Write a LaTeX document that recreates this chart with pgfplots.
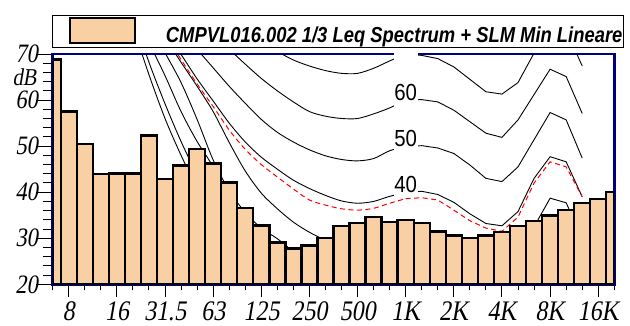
\documentclass[border=0pt]{standalone}
\usepackage{fontspec}
\setmainfont{Liberation Serif}
\newfontfamily\serifit{Liberation Serif}[FakeSlant=0.2]
\newfontfamily\arialfont{Liberation Sans}
\usepackage{graphicx}
\usepackage{pgfplots}
\pgfplotsset{compat=1.18}
\definecolor{barfill}{RGB}{249,208,163}
\definecolor{navyblue}{RGB}{0,0,128}
\newcommand{\vs}[1]{\scalebox{1}[1.18]{#1}}
\newcommand{\vl}[1]{\scalebox{1}[1.14]{#1}}
\newcommand{\legfont}{\arialfont\bfseries\itshape\fontsize{18.4}{20}\selectfont}
\newcommand{\labfont}{\arialfont\fontsize{20.4}{20.4}\selectfont}
\begin{document}
\begin{tikzpicture}
\useasboundingbox (0,0) rectangle (630pt,325pt);
\begin{axis}[
  at={(52.7pt,40.7pt)}, anchor=south west,
  scale only axis, width=561.6pt, height=230.3pt,
  xmin=0, xmax=35, ymin=20, ymax=70,
  clip mode=individual,
  axis line style={draw=navyblue, line width=2.8pt},
  tick align=outside, xtick pos=bottom, ytick pos=left,
  major tick length=13pt, minor tick length=6pt,
  xtick={1,4,...,34}, minor xtick={0,...,35},
  ytick={20,30,...,70}, minor ytick={22,24,...,68},
  tick style={black, line width=1pt},
  ytick style={/pgfplots/major tick length=16.7pt, /pgfplots/minor tick length=10pt},
  xticklabels={\vs{8},\vs{16},\vs{31.5},\vs{63},\vs{125},\vs{250},\vs{500},\vs{1K},\vs{2K},\vs{4K},\vs{8K},\vs{16K}},
  yticklabels={\vs{20},\vs{30},\vs{40},\vs{50},\vs{60},\vs{70}},
  xticklabel style={font=\serifit\fontsize{24}{24}\selectfont, inner sep=0pt, yshift=-4pt},
  yticklabel style={font=\serifit\fontsize{22.5}{22.5}\selectfont, inner sep=0pt, xshift=-1.5pt},
  legend style={at={(0,1)}, anchor=south west, xshift=-0.2pt, yshift=6.7pt,
    draw=black, line width=0.8pt, fill=white, inner sep=0pt, column sep=0pt,
    font=\legfont, nodes={inner sep=0.5pt}},
  legend cell align=left,
]
% equal loudness contours (black)
\addplot[black, line width=0.9pt, smooth, forget plot] coordinates {(5,76)(6,65.5)(7,56)(8,48)(9,41)(10,35)(11,30)(12,26)};
\addplot[black, line width=0.9pt, smooth, forget plot] coordinates {(5,78.5)(6,68.2)(7,59.2)(8,51)(9,43.8)(10,37.5)(11,32)(12,27)};
\addplot[black, line width=0.9pt, smooth, forget plot] coordinates {(5,80)(6,72.5)(7,65.3)(8,57.5)(9,51)(10,45.5)(11,38.5)(12,34.5)(13,31)};
\addplot[black, line width=0.9pt, smooth, forget plot] coordinates {(5,84)(6,77)(7,70.3)(8,63.8)(9,55.8)(10,47.0)(11,40.3)(12,35.6)(13,32.2)(14,29.9)(15,27.2)(16,25.5)(17,24.3)};
\addplot[black, line width=0.9pt, smooth, forget plot] coordinates {(6,78)(7,73.5)(8,68.2)(9,63)(10,57.5)(11,50.8)(12,44.6)(13,39.8)(14,36.4)(15,33.5)(16,31.3)(17,29.6)(18,28.7)(19,28.3)(20,28.6)(21,29.4)(22,30)};
\addplot[black, line width=0.9pt, forget plot] coordinates {(22,30)(23,30.2)(24,29.5)(25,27.4)(26,25)(27,23.3)(28,22.8)(29,26.5)(30,32.5)(31,38.7)(32,37.7)(33,30)};
\addplot[black, line width=0.9pt, smooth, forget plot] coordinates {(7,75)(8,69.9)(9,64.6)(10,59.8)(11,55.0)(12,50.9)(13,47.6)(14,45.0)(15,42.6)(16,40.8)(17,39.3)(18,38.1)(19,37.6)(20,38.0)(21,39.1)(22,39.9)};
\addplot[black, line width=0.9pt, forget plot] coordinates {(22,39.9)(23,40.2)(24,39.5)(25,37.8)(26,35.3)(27,33.2)(28,32.7)(29,35.8)(30,43.0)(31,47.7)(32,46.6)(33,39.0)};
\addplot[black, line width=0.9pt, smooth, forget plot] coordinates {(8,75)(9,71)(10,67)(11,63)(12,59.3)(13,55.8)(14,53)(15,50.9)(16,49.2)(17,47.9)(18,47.1)(19,46.8)(20,47.3)(21,49.0)(22,49.9)};
\addplot[black, line width=0.9pt, forget plot] coordinates {(22,49.9)(23,50.1)(24,49.6)(25,48.4)(26,45.9)(27,43.0)(28,42.3)(29,45.5)(30,51.4)(31,57.3)(32,55.7)(33,47.4)};
\addplot[black, line width=0.9pt, smooth, forget plot] coordinates {(10,74)(11,71)(12,67.8)(13,64.7)(14,62.0)(15,59.6)(16,57.5)(17,56.5)(18,56.0)(19,56.0)(20,57.0)(21,58.3)(22,60)};
\addplot[black, line width=0.9pt, forget plot] coordinates {(22,60)(23,60.1)(24,59.6)(25,57.8)(26,55.3)(27,52.8)(28,51.9)(29,55.7)(30,61.2)(31,66.7)(32,65.1)(33,57.1)};
\addplot[black, line width=0.9pt, smooth, forget plot] coordinates {(12,76)(13,73.2)(14,70.6)(15,68.7)(16,67.4)(17,66.4)(18,65.8)(19,65.8)(20,66.9)(21,68.5)(22,70)};
\addplot[black, line width=0.9pt, forget plot] coordinates {(22,70)(23,69.7)(24,69.0)(25,67.2)(26,64.5)(27,61.8)(28,61.3)(29,63.8)(30,70.2)(31,76.7)(32,75.2)(33,67.4)};
% contour labels
\node[fill=white, inner sep=0.5pt, text height=16.6pt, text depth=6pt, anchor=base, font=\labfont] at (axis cs:22,60) {\vl{60}};
\node[fill=white, inner sep=0.5pt, text height=16.6pt, text depth=6pt, anchor=base, font=\labfont] at (axis cs:22,50) {\vl{50}};
\node[fill=white, inner sep=0.5pt, text height=16.6pt, text depth=6pt, anchor=base, font=\labfont] at (axis cs:22,40) {\vl{40}};
% red dashed curve
\addplot[red, line width=1pt, dash pattern=on 5pt off 3.5pt, smooth, forget plot] coordinates {(7,74.5)(8,68.8)(9,63.5)(10,58.6)(11,53.5)(12,49.3)(13,46.0)(14,43.3)(15,40.7)(16,38.3)(17,37.2)(18,36.4)(19,36.1)(20,36.5)(21,37.6)(22,38.6)};
\addplot[red, line width=1pt, dash pattern=on 5pt off 3.5pt, forget plot] coordinates {(22,38.6)(23,38.8)(24,38.3)(25,36.1)(26,33.8)(27,32.2)(28,31.5)(29,34.6)(30,42.0)(31,46.6)(32,45.5)(33,39.0)};
% spectrum bars
\addplot[ybar, bar width=1, fill=barfill, draw=black, line width=2.4pt,
  legend image code/.code={%
    \path[draw=none, fill=none] (-17pt,-11.3pt) rectangle (95.5pt,20.7pt);
    \draw[fill=barfill, draw=black, line width=1.8pt] (0pt,-7.6pt) rectangle (65pt,18pt);}]
  coordinates {(1,57.5)(2,50.4)(3,44.0)(4,44.1)(5,44.1)(6,52.35)(7,42.9)(8,45.8)(9,49.4)(10,46.2)(11,42.1)(12,36.6)(13,32.8)(14,29.1)(15,27.8)(16,28.4)(17,30.1)(18,32.7)(19,33.3)(20,34.6)(21,33.5)(22,33.9)(23,33.3)(24,31.5)(25,30.6)(26,30.1)(27,30.6)(28,31.4)(29,32.7)(30,33.7)(31,34.9)(32,36.1)(33,37.7)(34,38.5)};
\addlegendentry{\vs{CMPVL016.002 1/3 Leq Spectrum + SLM Min Lineare}}
\addplot[ybar, bar width=0.5, bar shift=0.25, fill=barfill, draw=black, line width=2.4pt, forget plot] coordinates {(0,68.8)};
\addplot[ybar, bar width=0.5, bar shift=-0.25, fill=barfill, draw=black, line width=2.4pt, forget plot] coordinates {(35,40.0)};
% white box of the clipped 70 label
\fill[white] (axis cs:21.28,68.6) rectangle (axis cs:22.75,70.45);
\node[anchor=east, font=\serifit\fontsize{20.5}{20.5}\selectfont, inner sep=0pt] at (axis cs:0,64.9) [xshift=-16pt] {\vs{dB}};
\end{axis}
\end{tikzpicture}
\end{document}
